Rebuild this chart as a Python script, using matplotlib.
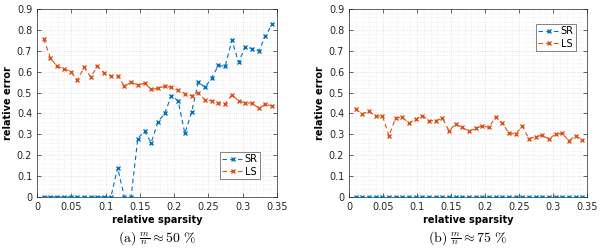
import numpy as np
import matplotlib
matplotlib.use("Agg")
import matplotlib.pyplot as plt
from matplotlib.ticker import MultipleLocator

x = np.linspace(0.0098, 0.343, 35)

sr_a = [0, 0, 0, 0, 0, 0, 0, 0, 0, 0, 0, 0.14, 0, 0, 0.28, 0.315, 0.26, 0.36, 0.40,
        0.485, 0.46, 0.305, 0.405, 0.55, 0.525, 0.57, 0.63, 0.625, 0.75, 0.645,
        0.72, 0.71, 0.70, 0.77, 0.83]
ls_a = [0.757, 0.665, 0.625, 0.615, 0.60, 0.56, 0.62, 0.575, 0.625, 0.595, 0.58,
        0.58, 0.53, 0.55, 0.535, 0.545, 0.515, 0.52, 0.53, 0.525, 0.51, 0.495,
        0.485, 0.50, 0.465, 0.46, 0.45, 0.445, 0.49, 0.46, 0.45, 0.45, 0.425,
        0.445, 0.435]
sr_b = [0.0] * 35
ls_b = [0.419, 0.398, 0.41, 0.386, 0.389, 0.293, 0.378, 0.381, 0.354, 0.373, 0.39,
        0.366, 0.365, 0.378, 0.317, 0.349, 0.333, 0.315, 0.328, 0.341, 0.333,
        0.384, 0.354, 0.306, 0.301, 0.339, 0.28, 0.288, 0.296, 0.277, 0.302,
        0.304, 0.27, 0.293, 0.275]

captions = [r"$\mathrm{(a)}\ \frac{m}{n} \approx 50\ \%$",
            r"$\mathrm{(b)}\ \frac{m}{n} \approx 75\ \%$"]
series_names = ["SR", "LS"]
blue = "#0072BD"
orange = "#D95319"

plt.rcParams["mathtext.fontset"] = "cm"
plt.rcParams["font.family"] = ["DejaVu Sans"]

fig = plt.figure(figsize=(6, 2.5), dpi=100)
W, H = 600, 250
axes_px = [(37, 277), (349, 587)]
top, bot = 9, 197

legend_specs = [("lower left", (0.762, 0.096)), ("upper left", (0.786, 0.92))]

for i, (sr, ls) in enumerate([(sr_a, ls_a), (sr_b, ls_b)]):
    l, r = axes_px[i]
    ax = fig.add_axes([l / W, 1 - bot / H, (r - l) / W, (bot - top) / H])
    ax.plot(x, sr, linestyle=(0, (4, 3)), color=blue, marker="x", markersize=3,
            markeredgewidth=1.0, linewidth=0.8, label=series_names[0], zorder=3)
    ax.plot(x, ls, linestyle=(0, (4, 3)), color=orange, marker="x", markersize=3,
            markeredgewidth=1.0, linewidth=0.8, label=series_names[1], zorder=3)
    ax.set_xlim(0, 0.35)
    ax.set_ylim(0, 0.9)
    ax.xaxis.set_minor_locator(MultipleLocator(0.01))
    ax.yaxis.set_minor_locator(MultipleLocator(0.02))
    ax.set_xticks(np.arange(0, 0.351, 0.05))
    ax.set_xticklabels(["0", "0.05", "0.1", "0.15", "0.2", "0.25", "0.3", "0.35"])
    ax.set_yticks(np.arange(0, 0.91, 0.1))
    ax.set_yticklabels(["0", "0.1", "0.2", "0.3", "0.4", "0.5", "0.6", "0.7", "0.8", "0.9"])
    ax.grid(which="major", color="#d8d8d8", linestyle=":", linewidth=0.6)
    ax.grid(which="minor", color="#e6e6e6", linestyle=":", linewidth=0.5)
    ax.tick_params(which="both", direction="in", top=True, right=True,
                   labelsize=7, colors="#262626", width=0.5)
    ax.tick_params(which="major", length=3)
    ax.tick_params(which="minor", length=0)
    for s in ax.spines.values():
        s.set_color("#262626")
        s.set_linewidth(0.5)
    ax.set_xlabel("relative sparsity", fontsize=7, fontweight="bold", labelpad=2)
    ax.set_ylabel("relative error", fontsize=7, fontweight="bold", labelpad=3)
    loc, anchor = legend_specs[i]
    leg = ax.legend(loc=loc, bbox_to_anchor=anchor, fontsize=7,
                    frameon=True, fancybox=False, handlelength=2.2,
                    handletextpad=0.1, borderpad=0.25, labelspacing=0.25,
                    borderaxespad=0)
    leg.get_frame().set_edgecolor("#262626")
    leg.get_frame().set_linewidth(0.5)
    cx = (l + r) / 2 / W
    fig.text(cx, 1 - 238 / H, captions[i], ha="center", va="center", fontsize=10)

fig.savefig("out.png", dpi=100)
